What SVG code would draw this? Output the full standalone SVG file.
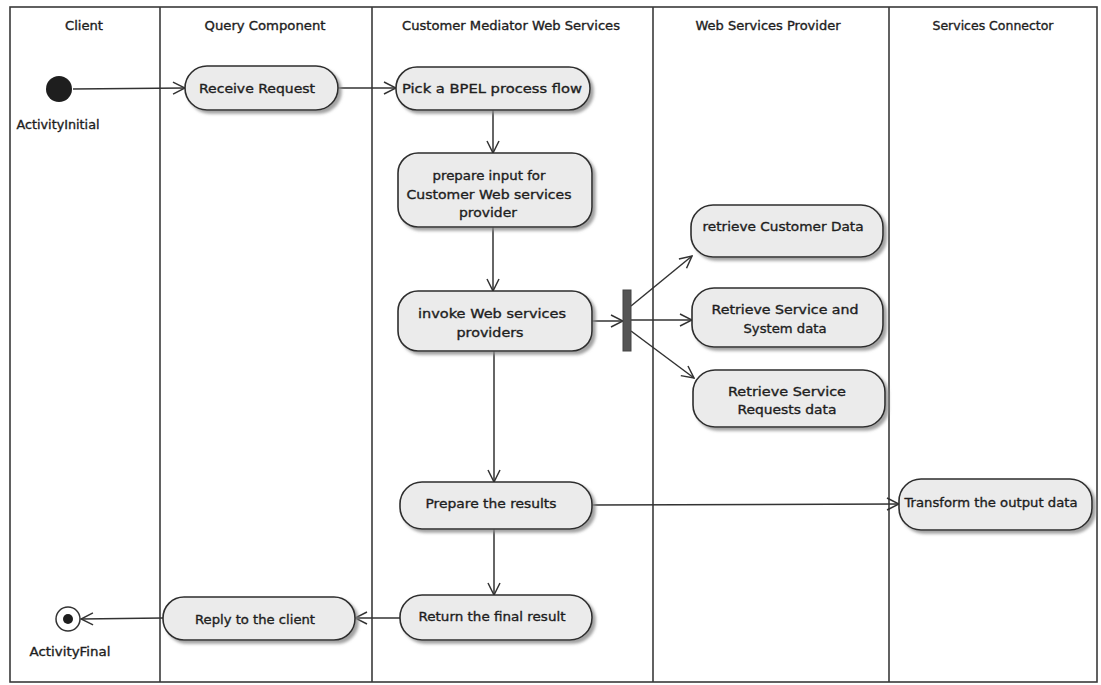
<svg xmlns="http://www.w3.org/2000/svg" width="1101" height="685" viewBox="0 0 1101 685">
  <style>
    .lane { fill: none; stroke: #3a3a3a; stroke-width: 1.6; }
    .act { fill: #ebebeb; stroke: #2e2e2e; stroke-width: 1.6; filter: url(#shadow); }
    .lbl, .hdr { font-family: "DejaVu Sans", "Liberation Sans", sans-serif; font-size: 12.5px; fill: #1e1e1e; stroke: #1e1e1e; stroke-width: 0.35; text-anchor: middle; }
    .flow { fill: none; stroke: #333; stroke-width: 1.5; marker-end: url(#open); }
  </style>
  <defs>
    <filter id="shadow" x="-10%" y="-20%" width="125%" height="150%">
      <feDropShadow dx="3" dy="3" stdDeviation="1.5" flood-color="#8a8a8a" flood-opacity="0.8"/>
    </filter>
    <marker id="open" viewBox="0 0 14 14" refX="13" refY="7" markerWidth="14" markerHeight="14" markerUnits="userSpaceOnUse" orient="auto">
      <path d="M1,1 L13,7 L1,13" fill="none" stroke="#333" stroke-width="1.5"/>
    </marker>
  </defs>

  <rect width="1101" height="685" fill="#ffffff"/>

  <!-- swimlanes -->
  <g id="lanes">
    <rect class="lane" x="10" y="7" width="1087" height="675"/>
    <line class="lane" x1="160" y1="7" x2="160" y2="682"/>
    <line class="lane" x1="372" y1="7" x2="372" y2="682"/>
    <line class="lane" x1="653" y1="7" x2="653" y2="682"/>
    <line class="lane" x1="889" y1="7" x2="889" y2="682"/>
    <text class="hdr" x="84" y="30" textLength="38" lengthAdjust="spacingAndGlyphs">Client</text>
    <text class="hdr" x="265" y="30" textLength="121" lengthAdjust="spacingAndGlyphs">Query Component</text>
    <text class="hdr" x="511" y="30" textLength="218" lengthAdjust="spacingAndGlyphs">Customer Mediator Web Services</text>
    <text class="hdr" x="768" y="30" textLength="145" lengthAdjust="spacingAndGlyphs">Web Services Provider</text>
    <text class="hdr" x="993" y="30" textLength="121" lengthAdjust="spacingAndGlyphs">Services Connector</text>
  </g>

  <!-- connectors -->
  <g id="connectors">
    <line class="flow" x1="73" y1="89" x2="185" y2="88"/>
    <line class="flow" x1="338" y1="88" x2="396" y2="88"/>
    <line class="flow" x1="493" y1="110" x2="493" y2="153"/>
    <line class="flow" x1="493" y1="227" x2="493" y2="291"/>
    <line class="flow" x1="592" y1="321" x2="623" y2="321"/>
    <line class="flow" x1="631" y1="306" x2="692" y2="256"/>
    <line class="flow" x1="631" y1="320" x2="692" y2="320"/>
    <line class="flow" x1="631" y1="331" x2="694" y2="378"/>
    <line class="flow" x1="494" y1="351" x2="494" y2="482"/>
    <line class="flow" x1="592" y1="505" x2="899" y2="504"/>
    <line class="flow" x1="494" y1="529" x2="494" y2="595"/>
    <line class="flow" x1="400" y1="618" x2="355" y2="618"/>
    <line class="flow" x1="163" y1="618" x2="81" y2="619"/>
  </g>

  <!-- start / end -->
  <g id="initial">
    <circle cx="59" cy="89" r="13" fill="#1e1e1e"/>
    <text class="lbl" x="58" y="129" textLength="83" lengthAdjust="spacingAndGlyphs">ActivityInitial</text>
  </g>
  <g id="final">
    <circle cx="68" cy="619" r="12" fill="#fff" stroke="#333" stroke-width="1.5"/>
    <circle cx="68" cy="619" r="5" fill="#1e1e1e"/>
    <text class="lbl" x="70" y="656" textLength="81" lengthAdjust="spacingAndGlyphs">ActivityFinal</text>
  </g>

  <!-- actions -->
  <g id="receive-request">
    <rect class="act" x="185" y="66" width="153" height="44" rx="22"/>
    <text class="lbl" x="257" y="93" textLength="116" lengthAdjust="spacingAndGlyphs">Receive Request</text>
  </g>
  <g id="pick-bpel">
    <rect class="act" x="396" y="67" width="194" height="43" rx="21"/>
    <text class="lbl" x="492" y="93" textLength="180" lengthAdjust="spacingAndGlyphs">Pick a BPEL process flow</text>
  </g>
  <g id="prepare-input">
    <rect class="act" x="398" y="153" width="194" height="74" rx="20"/>
    <text class="lbl" x="489" y="180" textLength="113" lengthAdjust="spacingAndGlyphs">prepare input for</text>
    <text class="lbl" x="489" y="199" textLength="165" lengthAdjust="spacingAndGlyphs">Customer Web services</text>
    <text class="lbl" x="488" y="217" textLength="58" lengthAdjust="spacingAndGlyphs">provider</text>
  </g>
  <g id="invoke-providers">
    <rect class="act" x="398" y="291" width="194" height="60" rx="20"/>
    <text class="lbl" x="492" y="318" textLength="148" lengthAdjust="spacingAndGlyphs">invoke Web services</text>
    <text class="lbl" x="490" y="337" textLength="67" lengthAdjust="spacingAndGlyphs">providers</text>
  </g>
  <g id="fork">
    <rect x="623" y="290" width="8" height="61" fill="#555" stroke="#444" stroke-width="1"/>
  </g>
  <g id="retrieve-customer">
    <rect class="act" x="691" y="205" width="192" height="52" rx="22"/>
    <text class="lbl" x="783" y="231" textLength="161" lengthAdjust="spacingAndGlyphs">retrieve Customer Data</text>
  </g>
  <g id="retrieve-system">
    <rect class="act" x="692" y="288" width="191" height="59" rx="22"/>
    <text class="lbl" x="785" y="314" textLength="147" lengthAdjust="spacingAndGlyphs">Retrieve Service and</text>
    <text class="lbl" x="785" y="333" textLength="83" lengthAdjust="spacingAndGlyphs">System data</text>
  </g>
  <g id="retrieve-requests">
    <rect class="act" x="693" y="370" width="192" height="57" rx="22"/>
    <text class="lbl" x="787" y="396" textLength="118" lengthAdjust="spacingAndGlyphs">Retrieve Service</text>
    <text class="lbl" x="787" y="414" textLength="99" lengthAdjust="spacingAndGlyphs">Requests data</text>
  </g>
  <g id="prepare-results">
    <rect class="act" x="400" y="482" width="192" height="47" rx="22"/>
    <text class="lbl" x="491" y="508" textLength="131" lengthAdjust="spacingAndGlyphs">Prepare the results</text>
  </g>
  <g id="transform-output">
    <rect class="act" x="899" y="479" width="193" height="51" rx="22"/>
    <text class="lbl" x="991" y="507" textLength="173" lengthAdjust="spacingAndGlyphs">Transform the output data</text>
  </g>
  <g id="return-result">
    <rect class="act" x="400" y="595" width="192" height="45" rx="22"/>
    <text class="lbl" x="492" y="621" textLength="147" lengthAdjust="spacingAndGlyphs">Return the final result</text>
  </g>
  <g id="reply-client">
    <rect class="act" x="163" y="597" width="192" height="43" rx="21"/>
    <text class="lbl" x="255" y="624" textLength="120" lengthAdjust="spacingAndGlyphs">Reply to the client</text>
  </g>
</svg>
